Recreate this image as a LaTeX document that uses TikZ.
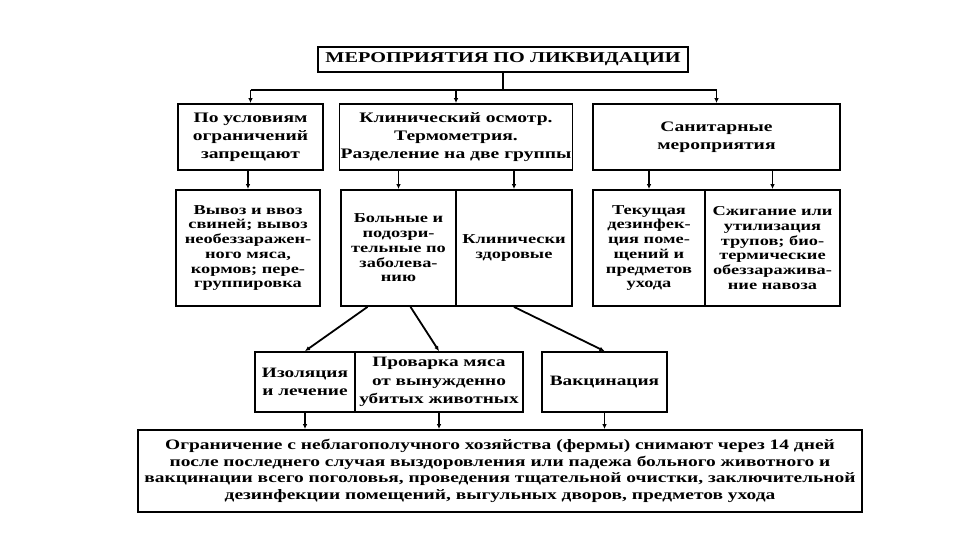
\documentclass[tikz,border=0pt]{standalone}
\usepackage{fontspec}
\setmainfont{Liberation Serif}[FakeStretch=1.35]
\usetikzlibrary{arrows.meta,calc}

\begin{document}
\begin{tikzpicture}[x=1pt, y=-1pt,
  >={Latex[length=5pt,width=4.5pt]},
  box/.style={draw, line width=1.8pt, align=center, inner sep=1pt},
  heading/.style={box, minimum height=25pt, font=\fontsize{15}{18}\selectfont\bfseries},
  upper/.style={box, minimum height=66pt, font=\fontsize{14.5}{18}\selectfont\bfseries},
  middle/.style={box, minimum height=116pt, font=\fontsize{13.6}{14.7}\selectfont\bfseries},
  lower/.style={box, minimum height=60pt, font=\fontsize{14.3}{18.5}\selectfont\bfseries},
  summary/.style={box, minimum height=82pt, font=\fontsize{14.4}{16.5}\selectfont\bfseries},
  link/.style={->, line width=1.8pt},
  plain/.style={line width=1.8pt},
]
\useasboundingbox (0,0) rectangle (960,540);

\node[heading, minimum width=370pt] (title) at (503,59.5) {МЕРОПРИЯТИЯ ПО ЛИКВИДАЦИИ};

% first tier
\node[upper, minimum width=145pt] (restr) at (250.5,137) {По условиям\\ограничений\\запрещают};
\node[upper, minimum width=232pt] (exam) at (456,137) {Клинический осмотр.\\Термометрия.\\Разделение на две группы};
\node[upper, minimum width=247pt] (sanit) at (716.5,137) {Санитарные\\мероприятия};

% second tier
\node[middle, minimum width=144pt] (ban) at (248,248) {Вывоз и ввоз\\свиней; вывоз\\необеззаражен-\\ного мяса,\\кормов; пере-\\группировка};
\node[middle, minimum width=115pt] (sick) at (398.5,248) {Больные и\\подозри-\\тельные по\\заболева-\\нию};
\node[middle, minimum width=116pt] (healthy) at (514,248) {Клинически\\здоровые};
\node[middle, minimum width=112pt] (disinf) at (649,248) {Текущая\\дезинфек-\\ция поме-\\щений и\\предметов\\ухода};
\node[middle, minimum width=135pt] (burn) at (772.5,248) {Сжигание или\\утилизация\\трупов; био-\\термические\\обеззаражива-\\ние навоза};

% third tier
\node[lower, minimum width=100pt] (isol) at (305,382) {Изоляция\\и лечение};
\node[lower, minimum width=168pt] (boil) at (439,382) {Проварка мяса\\от вынужденно\\убитых животных};
\node[lower, minimum width=125pt] (vacc) at (604.5,382) {Вакцинация};

\node[summary, minimum width=724pt] (final) at (500,471) {Ограничение с неблагополучного хозяйства (фермы) снимают через 14 дней\\после последнего случая выздоровления или падежа больного животного и\\вакцинации всего поголовья, проведения тщательной очистки, заключительной\\дезинфекции помещений, выгульных дворов, предметов ухода};

\coordinate (bus) at (503,90);
\draw[plain] (title.south) -- (bus);
\draw[plain] (restr.north |- bus) -- (sanit.north |- bus);
\draw[link] (restr.north |- bus) -- (restr.north);
\draw[link] (exam.north |- bus) -- (exam.north);
\draw[link] (sanit.north |- bus) -- (sanit.north);

\draw[link] (restr.south -| ban) -- (ban);
\draw[link] (exam.south -| sick) -- (sick);
\draw[link] (exam.south -| healthy) -- (healthy);
\draw[link] (sanit.south -| disinf) -- (disinf);
\draw[link] (sanit.south -| burn) -- (burn);

\draw[link] ([xshift=-31pt]sick.south) -- (isol.north);
\draw[link] ([xshift=12pt]sick.south) -- (boil.north);
\draw[link] (healthy.south) -- (vacc.north);

\draw[link] (isol) -- (isol |- final.north);
\draw[link] (boil) -- (boil |- final.north);
\draw[link] (vacc) -- (vacc |- final.north);
\end{tikzpicture}
\end{document}
